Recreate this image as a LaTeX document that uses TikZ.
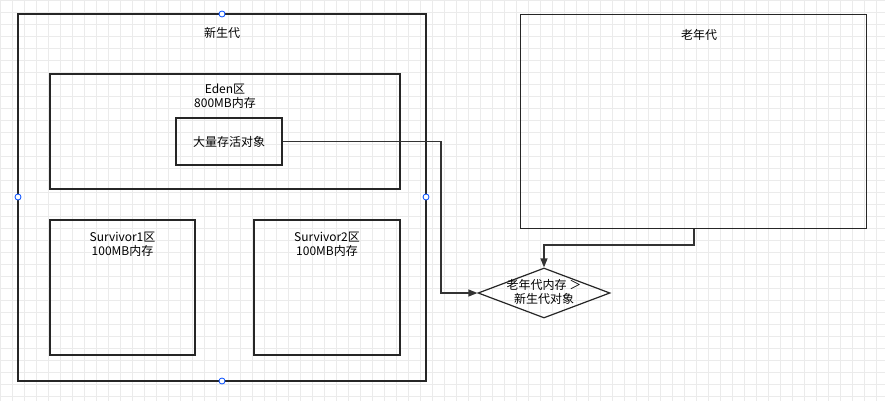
\documentclass[tikz,border=0pt]{standalone}
\usepackage{fontspec}
\setmainfont{Noto Sans CJK SC}
\usetikzlibrary{shapes.geometric,arrows.meta}
\tikzset{every picture/.style={line width=1pt}}
\tikzset{
  box/.style={draw=black!85, line width=1.2pt},
  lbl/.style={font=\fontsize{12}{14}\selectfont, align=center, inner sep=0pt},
  conn/.style={draw=black!80, line width=1.2pt, -{Triangle[length=9pt,width=7pt]}},
  handle/.style={circle, draw=blue!70!cyan, fill=white, line width=0.8pt, minimum size=6pt, inner sep=0pt}
}
\begin{document}
\begin{tikzpicture}[x=1pt,y=1pt,yscale=-1]
\useasboundingbox (0,0) rectangle (885,401);
\fill[white] (0,0) rectangle (885,401);
% grid
\foreach \gx in {0,12,...,885} \draw[black!8, line width=0.6pt] (\gx,0) -- (\gx,401);
\foreach \gy in {0,12,...,401} \draw[black!8, line width=0.6pt] (0,\gy) -- (885,\gy);

% young generation
\draw[box] (18,14) rectangle (426,381);
\node[lbl] (young) at (222,33) {新生代};
\draw[box] (50,74) rectangle (400,189);
\node[lbl] (eden) at (225,96) {Eden区\\800MB内存};
\node[draw=black!85, line width=1.2pt, minimum width=106pt, minimum height=47pt, font=\fontsize{12}{14}\selectfont] (live) at (229,141.5) {大量存活对象};
\draw[box] (50,220) rectangle (195,355);
\node[lbl] (s1) at (122.5,244) {Survivor1区\\100MB内存};
\draw[box] (254,220) rectangle (400,355);
\node[lbl] (s2) at (327,244) {Survivor2区\\100MB内存};

% old generation
\node[draw=black!85, line width=1.2pt, minimum width=346pt, minimum height=214pt, anchor=north west] (old) at (520,14) {};
\node[lbl] (oldlbl) at (699,35) {老年代};

% check
\node[diamond, draw=black!85, line width=1.2pt, aspect=2.6, minimum width=132pt, minimum height=50pt, inner sep=0pt] (check) at (544,293) {};
\node[lbl] (checklbl) at (544,292) {老年代内存 ＞\\新生代对象};

\coordinate (c1) at (441,141.5);
\coordinate (c2) at (441,293);
\draw[conn] (live.east) -- (c1) -- (c2) -- (check.west);
\coordinate (c3) at (694,245);
\coordinate (c4) at (544,245);
\draw[conn] (old.south -| c3) -- (c3) -- (c4) -- (check.north);

% selection handles
\node[handle] (h1) at (222,14) {};
\node[handle] (h2) at (18,197) {};
\node[handle] (h3) at (426,197) {};
\node[handle] (h4) at (222,381) {};
\end{tikzpicture}
\end{document}
